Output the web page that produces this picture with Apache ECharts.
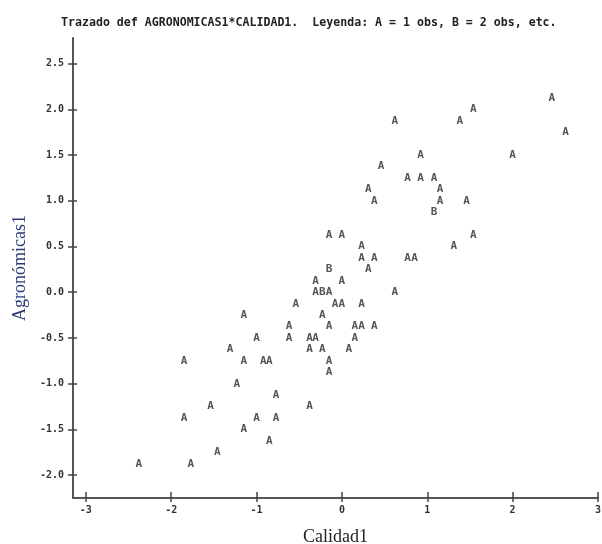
<!DOCTYPE html>
<html>
<head>
<meta charset="utf-8">
<script src="https://cdn.jsdelivr.net/npm/echarts@6/dist/echarts.min.js"></script>
<style>html,body{margin:0;padding:0;background:#fff;overflow:hidden}#c{width:602px;height:544px}</style>
</head>
<body>
<div id="c"></div>
<script>
// Observations plotted with "A" (1 obs)
const obsA_x = [0.62, 1.54, 1.38, 2.46, 2.62, 2.00, 0.92, 0.46, 0.77, 0.92, 1.08, 0.31, 1.15, 0.38, 1.15, 1.46,
  -0.15, 0.00, 1.54, 0.23, 1.31, 0.23, 0.38, 0.77, 0.85, 0.31, -0.31, 0.00, -0.31, -0.15, 0.62,
  -0.54, -0.08, 0.00, 0.23, -1.15, -0.23, -0.62, -0.15, 0.15, 0.23, 0.38,
  -1.00, -0.62, -0.38, -0.31, 0.15, -1.31, -0.38, -0.23, 0.08,
  -1.85, -1.15, -0.92, -0.85, -0.15, -0.15, -1.23, -0.77, -1.54, -0.38,
  -1.85, -1.00, -0.77, -1.15, -0.85, -1.46, -2.38, -1.77];
const obsA_y = [1.875, 2.0, 1.875, 2.125, 1.75, 1.5, 1.5, 1.375, 1.25, 1.25, 1.25, 1.125, 1.125, 1.0, 1.0, 1.0,
  0.625, 0.625, 0.625, 0.5, 0.5, 0.375, 0.375, 0.375, 0.375, 0.25, 0.125, 0.125, 0.0, 0.0, 0.0,
  -0.125, -0.125, -0.125, -0.125, -0.25, -0.25, -0.375, -0.375, -0.375, -0.375, -0.375,
  -0.5, -0.5, -0.5, -0.5, -0.5, -0.625, -0.625, -0.625, -0.625,
  -0.75, -0.75, -0.75, -0.75, -0.75, -0.875, -1.0, -1.125, -1.25, -1.25,
  -1.375, -1.375, -1.375, -1.5, -1.625, -1.75, -1.875, -1.875];
// Observations plotted with "B" (2 obs)
const obsB_x = [1.08, -0.15, -0.23];
const obsB_y = [0.875, 0.25, 0.0];
const xTicks = [-3, -2, -1, 0, 1, 2, 3];
const yTicks = [-2.0, -1.5, -1.0, -0.5, 0.0, 0.5, 1.0, 1.5, 2.0, 2.5];
const titleText = 'Trazado def AGRONOMICAS1*CALIDAD1.  Leyenda: A = 1 obs, B = 2 obs, etc.';

const pairs = (xs, ys) => xs.map((x, i) => [x, ys[i]]);
const mono = 'DejaVu Sans Mono';
const glyphLabel = (ch) => ({
  show: true, position: 'inside', formatter: ch,
  fontFamily: mono, fontWeight: 'bold', fontSize: 11, color: '#2a2a2a'
});
const axisLineStyle = { color: '#555', width: 2 };

const chart = echarts.init(document.getElementById('c'), null, { renderer: 'canvas' });
chart.setOption({
  animation: false,
  title: {
    text: titleText, left: 56, top: 12,
    textStyle: { fontFamily: mono, fontWeight: 'bold', fontSize: 11.6, color: '#222' }
  },
  grid: { left: 73, right: 4, top: 38, bottom: 46, containLabel: false, outerBoundsMode: 'none' },
  xAxis: [{
    type: 'value', min: -3.15, max: 3.0, position: 'bottom',
    name: 'Calidad1', nameLocation: 'middle', nameGap: 30,
    nameTextStyle: { fontFamily: 'Liberation Serif', fontSize: 18, color: '#222' },
    axisLine: { show: true, onZero: false, lineStyle: axisLineStyle },
    axisTick: { show: true, customValues: xTicks, length: 4, lineStyle: { color: '#444', width: 1.5 } },
    axisLabel: { show: true, customValues: xTicks, margin: 7, fontFamily: mono, fontWeight: 'bold', fontSize: 10, color: '#333',
      formatter: (v) => String(v) },
    splitLine: { show: false }
  }, {
    type: 'value', min: -3.15, max: 3.0, position: 'bottom', offset: 0,
    axisLine: { show: false, onZero: false },
    axisTick: { show: true, inside: true, customValues: xTicks, length: 6, lineStyle: { color: '#444', width: 1.5 } },
    axisLabel: { show: false },
    splitLine: { show: false }
  }],
  yAxis: [{
    type: 'value', min: -2.25, max: 2.78, position: 'left',
    name: 'Agronómicas1', nameLocation: 'middle', nameGap: 42, nameRotate: 90,
    nameTextStyle: { fontFamily: 'Liberation Serif', fontSize: 18, color: '#2a3a78' },
    axisLine: { show: true, onZero: false, lineStyle: axisLineStyle },
    axisTick: { show: true, customValues: yTicks, length: 5, lineStyle: { color: '#444', width: 1.5 } },
    axisLabel: { show: true, customValues: yTicks, margin: 9, fontFamily: mono, fontWeight: 'bold', fontSize: 10, color: '#333',
      formatter: (v) => v.toFixed(1) },
    splitLine: { show: false }
  }, {
    type: 'value', min: -2.25, max: 2.78, position: 'left', offset: 0,
    axisLine: { show: false, onZero: false },
    axisTick: { show: true, inside: true, customValues: yTicks, length: 4, lineStyle: { color: '#444', width: 1.5 } },
    axisLabel: { show: false },
    splitLine: { show: false }
  }],
  series: [{
    name: 'A = 1 obs', type: 'scatter', xAxisIndex: 0, yAxisIndex: 0,
    data: pairs(obsA_x, obsA_y), symbolSize: 8,
    itemStyle: { color: 'transparent' }, label: glyphLabel('A'), emphasis: { disabled: true }
  }, {
    name: 'B = 2 obs', type: 'scatter', xAxisIndex: 0, yAxisIndex: 0,
    data: pairs(obsB_x, obsB_y), symbolSize: 8,
    itemStyle: { color: 'transparent' }, label: glyphLabel('B'), emphasis: { disabled: true }
  }]
});
</script>
</body>
</html>
